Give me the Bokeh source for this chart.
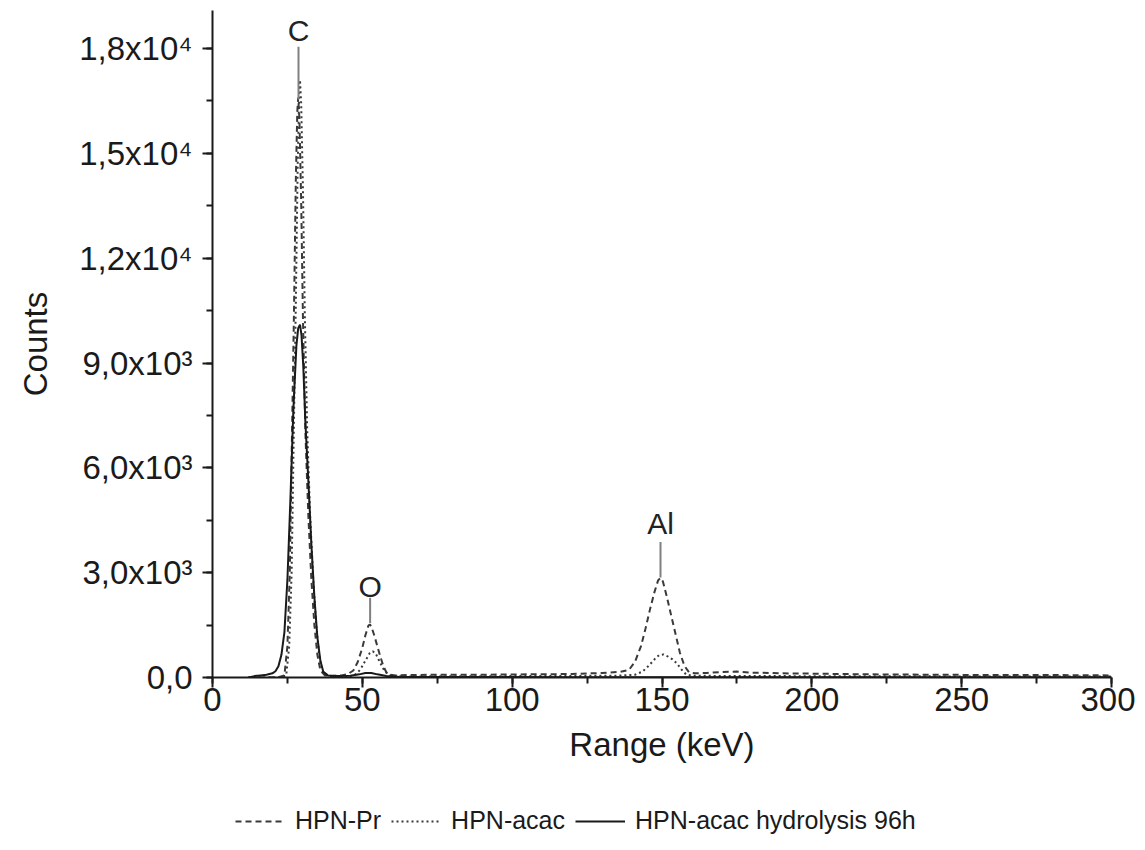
from bokeh.plotting import figure
from bokeh.layouts import column
from bokeh.models import Range1d, Legend, LegendItem, SingleIntervalTicker, Label
from bokeh.embed import file_html
from bokeh.resources import INLINE

FONT = "Liberation Sans"

# ---- data ----
pr_x = [12, 18, 22, 24, 25, 25.8, 26.5, 27.2, 27.8, 28.3, 28.6, 29.0, 29.6, 30.2, 31.0, 32.0,
        33.0, 34.0, 35.0, 36.0, 37.5, 40, 43, 45, 47, 48.5, 50, 51, 52, 52.5, 53, 54, 55, 56,
        57, 58, 59, 61, 65, 75, 90, 105, 120, 130, 136, 139, 141, 143, 144.5, 146, 147.5,
        148.7, 149.5, 150.3, 151.5, 153, 154.5, 156, 157.5, 159, 161, 165, 170, 175, 180,
        190, 200, 220, 240, 260, 280, 300]
pr_y = [0, 0, 10, 60, 900, 3000, 6800, 10500, 14200, 16200, 16600, 16000, 13600, 10200, 7000,
        4600, 2800, 1500, 650, 200, 60, 40, 60, 90, 200, 450, 850, 1200, 1480, 1520, 1460,
        1200, 900, 600, 330, 150, 80, 60, 70, 80, 80, 90, 100, 130, 160, 220, 450, 900, 1400,
        1950, 2450, 2780, 2850, 2750, 2350, 1800, 1250, 700, 330, 150, 120, 130, 160, 170,
        140, 120, 110, 90, 80, 70, 70, 60]

ac_x = [12, 20, 23, 24.6, 25.6, 26.4, 27.1, 27.8, 28.4, 28.9, 29.2, 29.6, 30.2, 30.8, 31.6,
        32.6, 33.6, 34.6, 35.6, 36.6, 38, 42, 46, 48, 49.5, 51, 52.5, 53.5, 54.5, 55.5, 57,
        58.5, 60, 65, 80, 100, 120, 135, 141, 143.5, 145.5, 147.5, 149, 150.5, 152, 153.5,
        155, 156.5, 158, 160, 170, 190, 220, 260, 300]
ac_y = [0, 0, 10, 60, 900, 3000, 6900, 10700, 14500, 16600, 17100, 16400, 13900, 10400, 7100,
        4600, 2800, 1500, 650, 200, 60, 30, 40, 100, 250, 480, 700, 750, 680, 500, 250, 90,
        40, 30, 35, 40, 45, 50, 80, 170, 330, 520, 640, 660, 600, 520, 400, 230, 90, 50, 45,
        40, 35, 30, 30]

hy_x = [12, 14, 16, 18, 20, 21, 22, 23, 24, 25, 26, 27, 28, 28.6, 29.2, 29.7, 30.3, 31.0,
        32.0, 33.0, 34.0, 35.0, 36.0, 37.0, 38.5, 42, 46, 49, 51, 53, 55, 58, 62, 80, 120,
        160, 200, 250, 300]
hy_y = [0, 40, 60, 80, 120, 180, 320, 650, 1300, 2800, 5100, 7700, 9500, 10000, 10100, 9800,
        8900, 7300, 5600, 3800, 2300, 1150, 480, 160, 60, 40, 50, 90, 130, 130, 90, 40, 20,
        15, 10, 10, 10, 10, 10]

series_names = ["HPN-Pr", "HPN-acac", "HPN-acac hydrolysis 96h"]

peak_names = ["C", "O", "Al"]
peak_x = [28.7, 52.6, 149.5]
peak_line_bottom = [16550, 1560, 2860]
peak_line_top = [18050, 2280, 3880]
peak_label_y = [18530, 2600, 4420]

y_tick_values = [0, 3000, 6000, 9000, 12000, 15000, 18000]
y_tick_labels = ["0,0", "3,0x10³", "6,0x10³", "9,0x10³", "1,2x10⁴", "1,5x10⁴", "1,8x10⁴"]

# ---- styles ----
STYLES = [dict(line_color="#3a3a3a", line_width=2, line_dash="6 4"),
          dict(line_color="#3a3a3a", line_width=2, line_dash="2 3"),
          dict(line_color="#1a1a1a", line_width=2)]

# ---- main figure ----
p = figure(width=1135, height=780, x_range=Range1d(0, 300), y_range=Range1d(0, 19090),
           output_backend="svg", toolbar_location=None,
           min_border_left=212, min_border_right=24, min_border_top=10, min_border_bottom=103)
p.outline_line_color = None
p.grid.visible = False
p.background_fill_color = "white"
p.border_fill_color = "white"

p.line(pr_x, pr_y, **STYLES[0])
p.line(ac_x, ac_y, **STYLES[1])
p.line(hy_x, hy_y, **STYLES[2])

p.segment(x0=peak_x, y0=peak_line_bottom, x1=peak_x, y1=peak_line_top,
          line_color="#808080", line_width=2)
for name, xx, yy in zip(peak_names, peak_x, peak_label_y):
    p.add_layout(Label(x=xx, y=yy, text=name, text_align="center", text_baseline="middle",
                       text_font=FONT, text_font_size="30px", text_color="#222222"))

for ax in (p.xaxis[0], p.yaxis[0]):
    ax.axis_line_width = 2
    ax.axis_line_color = "#1a1a1a"
    ax.major_tick_line_width = 2
    ax.minor_tick_line_width = 2
    ax.major_tick_line_color = "#1a1a1a"
    ax.minor_tick_line_color = "#1a1a1a"
    ax.major_tick_in = 0
    ax.major_tick_out = 10
    ax.minor_tick_in = 0
    ax.minor_tick_out = 6
    ax.major_label_text_font = FONT
    ax.major_label_text_font_size = "33px"
    ax.major_label_text_color = "#1a1a1a"
    ax.axis_label_text_font = FONT
    ax.axis_label_text_font_size = "33px"
    ax.axis_label_text_font_style = "normal"
    ax.axis_label_text_color = "#1a1a1a"

p.xaxis.ticker = SingleIntervalTicker(interval=50, num_minor_ticks=2)
p.yaxis.ticker = SingleIntervalTicker(interval=3000, num_minor_ticks=2)
p.yaxis.major_label_overrides = dict(zip(y_tick_values, y_tick_labels))
p.xaxis.axis_label = "Range (keV)"
p.yaxis.axis_label = "Counts"
p.xaxis.major_label_standoff = 0
p.xaxis.axis_label_standoff = 12
p.yaxis.major_label_standoff = 10
p.yaxis.axis_label_standoff = 22

# ---- legend strip below the plot (its frame is aligned with the main frame) ----
lg = figure(width=1135, height=65, x_range=Range1d(0, 1), y_range=Range1d(0, 1),
            output_backend="svg", toolbar_location=None,
            x_axis_type=None, y_axis_type=None,
            min_border_left=212, min_border_right=24, min_border_top=0, min_border_bottom=0)
lg.outline_line_color = None
lg.grid.visible = False
# proxy lines lie outside the visible range; they only feed the legend
lg_renderers = [lg.line([-5, -4], [-5, -5], **st) for st in STYLES]

legend = Legend(items=[LegendItem(label=n, renderers=[r]) for n, r in zip(series_names, lg_renderers)],
                orientation="horizontal", location=(23, 10),
                padding=0, margin=0, spacing=10, label_standoff=10,
                glyph_width=50, glyph_height=26, label_height=26,
                label_text_font=FONT, label_text_font_size="25px",
                label_text_color="#1a1a1a",
                border_line_alpha=0, background_fill_alpha=0)
lg.add_layout(legend, "center")

layout = column(p, lg, spacing=0)
open("out.html", "w").write(file_html(layout, INLINE))
